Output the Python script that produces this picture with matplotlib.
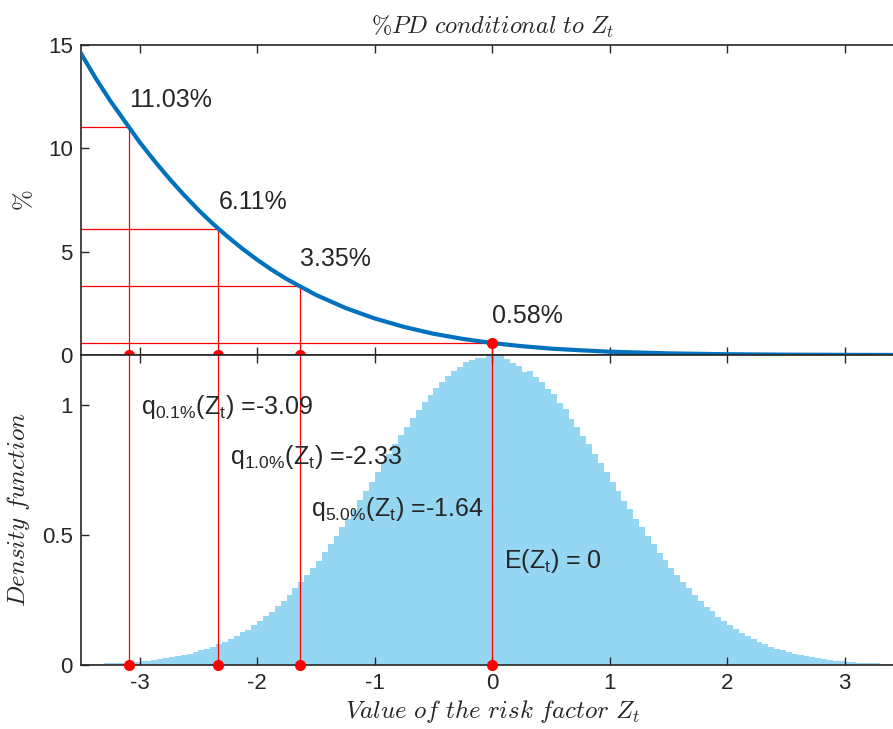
import numpy as np
import matplotlib
matplotlib.use('Agg')
import matplotlib.pyplot as plt

plt.rcParams['font.family'] = ['Liberation Sans', 'DejaVu Sans']
plt.rcParams['mathtext.fontset'] = 'custom'
plt.rcParams['mathtext.rm'] = 'Liberation Sans'
plt.rcParams['mathtext.it'] = 'Liberation Sans'
plt.rcParams['axes.unicode_minus'] = False

# conditional PD curve (%)
z_curve = [-3.5, -3.375, -3.25, -3.125, -3.0, -2.875, -2.75, -2.625, -2.5, -2.375,
           -2.25, -2.125, -2.0, -1.875, -1.75, -1.5, -1.25, -1.0, -0.75, -0.5,
           -0.25, 0.0, 0.25, 0.5, 0.75, 1.0, 1.5, 2.0, 2.5, 3.0, 3.5]
pd_curve = [14.6, 13.4, 12.3, 11.3, 10.3, 9.4, 8.55, 7.76, 7.02, 6.34,
            5.72, 5.14, 4.61, 4.12, 3.68, 2.91, 2.28, 1.77, 1.36, 1.03,
            0.78, 0.58, 0.43, 0.31, 0.23, 0.16, 0.08, 0.038, 0.018, 0.008, 0.003]

# quantiles and their PD values
q_z = [-3.09, -2.33, -1.64, 0.0]
q_pd = [11.03, 6.11, 3.35, 0.58]
pd_labels = ['11.03%', '6.11%', '3.35%', '0.58%']
q_labels = [r'q$_{0.1\%}$(Z$_t$) =-3.09', r'q$_{1.0\%}$(Z$_t$) =-2.33',
            r'q$_{5.0\%}$(Z$_t$) =-1.64', r'E(Z$_t$) = 0']
q_label_y = [0.99, 0.80, 0.60, 0.40]

# histogram of the risk factor (bin edges -3.5..3.5, width 0.05)
hist_edges = np.round(np.linspace(-3.5, 3.5, 141), 3)
hist_vals = [0.003, 0.003, 0.004, 0.005, 0.006, 0.007, 0.008, 0.009, 0.011, 0.012,
             0.014, 0.017, 0.019, 0.022, 0.025, 0.029, 0.033, 0.038, 0.043, 0.049,
             0.056, 0.063, 0.071, 0.080, 0.088, 0.100, 0.112, 0.125, 0.136, 0.153,
             0.169, 0.187, 0.205, 0.226, 0.246, 0.269, 0.295, 0.318, 0.344, 0.372,
             0.401, 0.433, 0.463, 0.495, 0.530, 0.562, 0.597, 0.634, 0.668, 0.704,
             0.742, 0.776, 0.812, 0.849, 0.882, 0.915, 0.949, 0.979, 1.009, 1.037,
             1.065, 1.088, 1.110, 1.129, 1.146, 1.162, 1.172, 1.181, 1.179, 1.190,
             1.186, 1.190, 1.175, 1.160, 1.149, 1.125, 1.131, 1.105, 1.088, 1.060,
             1.040, 1.005, 0.982, 0.945, 0.916, 0.880, 0.848, 0.810, 0.776, 0.742,
             0.702, 0.670, 0.630, 0.598, 0.561, 0.529, 0.494, 0.464, 0.430, 0.402,
             0.371, 0.345, 0.317, 0.294, 0.268, 0.247, 0.224, 0.206, 0.186, 0.170,
             0.152, 0.139, 0.124, 0.113, 0.099, 0.090, 0.079, 0.071, 0.062, 0.056,
             0.049, 0.043, 0.038, 0.033, 0.029, 0.025, 0.022, 0.019, 0.017, 0.014,
             0.012, 0.011, 0.009, 0.008, 0.007, 0.006, 0.005, 0.004, 0.003, 0.003]

tick_col = '#262626'
fig = plt.figure(figsize=(8.93, 7.29), dpi=100)
ax1 = fig.add_axes([0.0907, 0.513, 0.921, 0.425])
ax2 = fig.add_axes([0.0907, 0.0878, 0.921, 0.425])

for ax in (ax1, ax2):
    ax.set_xlim(-3.5, 3.5)
    ax.set_xticks([-3, -2, -1, 0, 1, 2, 3])
    ax.tick_params(direction='in', top=True, right=False, length=6, width=1,
                   labelsize=16, colors=tick_col, pad=6)
    for s in ax.spines.values():
        s.set_color(tick_col)
        s.set_linewidth(1.2)

# top panel
ax1.plot(z_curve, pd_curve, color='#0072BD', lw=3, zorder=3)
for z, p, lab in zip(q_z, q_pd, pd_labels):
    ax1.plot([-3.5, z], [p, p], color='red', lw=0.9, zorder=2)
    ax1.plot([z, z], [0, p], color='red', lw=0.9, zorder=2)
    ax1.text(z, p + 1.3, lab, fontsize=18, color='#262626', va='center', ha='left')
ax1.plot(q_z[:3], [0, 0, 0], 'o', color='red', ms=7, zorder=4)
ax1.plot([q_z[3]], [q_pd[3]], 'o', color='red', ms=7, zorder=4)
ax1.set_ylim(0, 15)
ax1.set_yticks([0, 5, 10, 15])
ax1.set_xticklabels([])
ax1.set_ylabel(r'$\%$', math_fontfamily='cm', fontsize=18, color=tick_col)
ax1.yaxis.set_label_coords(-0.054, 0.5)
ax1.set_title(r'$\%PD\ conditional\ to\ Z_t$', math_fontfamily='cm', fontsize=17.5,
              color=tick_col, pad=8)

# bottom panel
ax2.stairs(hist_vals, hist_edges, fill=True, color='#95d6f3', zorder=1)
for z in q_z:
    ax2.axvline(z, color='red', lw=0.9, zorder=2)
ax2.plot(q_z, [0, 0, 0, 0], 'o', color='red', ms=7, zorder=4, clip_on=False)
for z, y, lab in zip(q_z, q_label_y, q_labels):
    ax2.text(z + 0.1, y, lab, fontsize=18, color='#262626', va='center', ha='left')
ax2.set_ylim(0, 1.19)
ax2.set_yticks([0, 0.5, 1])
ax2.set_yticklabels(['0', '0.5', '1'])
ax2.set_ylabel(r'$Density\ function$', math_fontfamily='cm', fontsize=18, color=tick_col)
ax2.yaxis.set_label_coords(-0.06, 0.5)
ax2.set_xlabel(r'$Value\ of\ the\ risk\ factor\ Z_t$', math_fontfamily='cm',
               fontsize=18, color=tick_col, labelpad=3)

fig.savefig('out.png', dpi=100)
